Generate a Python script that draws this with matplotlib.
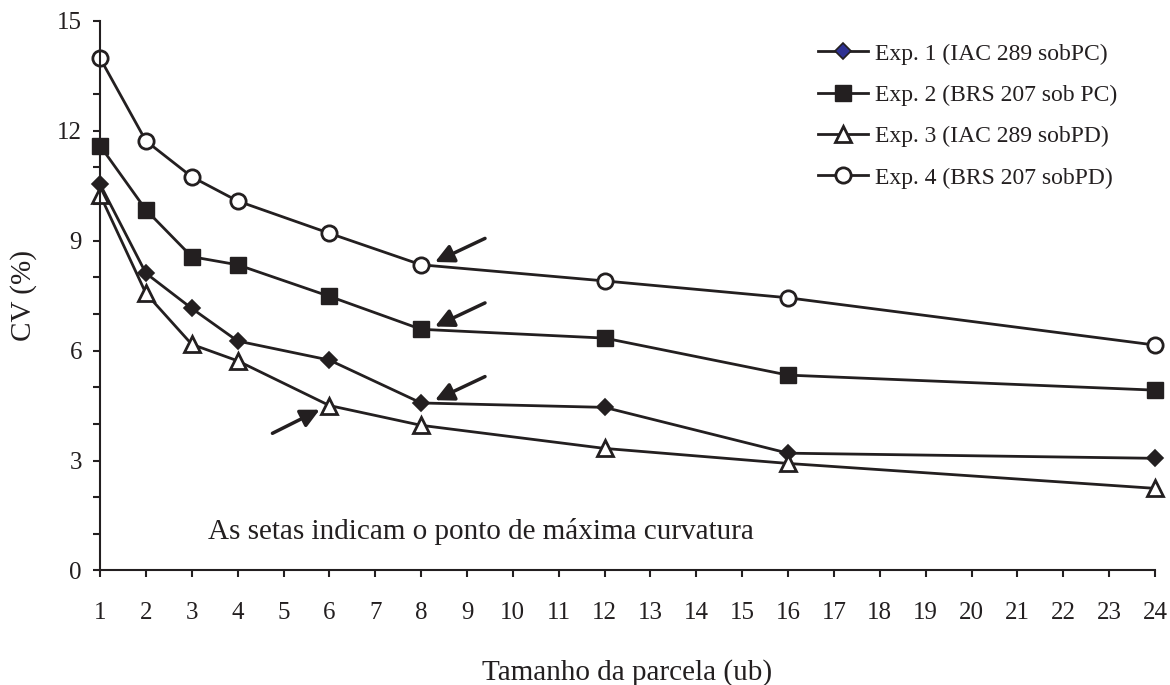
import matplotlib
matplotlib.use('Agg')
import matplotlib.pyplot as plt
import matplotlib.transforms as mtransforms

plt.rcParams['font.family'] = ['Liberation Serif', 'DejaVu Serif']

tamanho = [1, 2, 3, 4, 6, 8, 12, 16, 24]

exp1 = [10.54, 8.11, 7.15, 6.26, 5.74, 4.57, 4.45, 3.20, 3.06]
exp2 = [11.59, 9.84, 8.56, 8.34, 7.48, 6.58, 6.34, 5.33, 4.92]
exp3 = [10.25, 7.56, 6.17, 5.72, 4.50, 3.96, 3.33, 2.92, 2.24]
exp4 = [13.98, 11.72, 10.74, 10.08, 9.20, 8.34, 7.90, 7.44, 6.15]

labels = ['Exp. 1 (IAC 289 sobPC)', 'Exp. 2 (BRS 207 sob PC)',
          'Exp. 3 (IAC 289 sobPD)', 'Exp. 4 (BRS 207 sobPD)']

# ponto de maxima curvatura de cada experimento (tamanho da parcela)
pmc = [8, 8, 6, 8]

ink = '#231f20'

fig = plt.figure(figsize=(11.7, 6.85), dpi=100)
ax = fig.add_axes([0.0855, 0.1672, 0.9017, 0.8026])

ax.plot(tamanho, exp1, color=ink, lw=2, marker='D', ms=8, mfc=ink, mec=ink, mew=1.2, label=labels[0], clip_on=False)
ax.plot(tamanho, exp2, color=ink, lw=2, marker='s', ms=12, mfc=ink, mec=ink, label=labels[1], clip_on=False)
ax.plot(tamanho, exp3, color=ink, lw=2, marker='^', ms=11, mfc='white', mec=ink, mew=2, label=labels[2], clip_on=False)
ax.plot(tamanho, exp4, color=ink, lw=2, marker='o', ms=11, mfc='white', mec=ink, mew=2, label=labels[3], clip_on=False)

# setas
series = [exp1, exp2, exp3, exp4]
for i, s in enumerate(series):
    xp = pmc[i]
    yp = s[tamanho.index(xp)]
    if i == 2:
        tip = (-7, -3)
        tail = (-34, -17)
    else:
        tip = (10, 2)
        tail = (36, 17)
    trans = mtransforms.offset_copy(ax.transData, fig=fig, x=tip[0], y=tip[1], units='points')
    ax.annotate('', xy=(xp, yp), xycoords=trans, xytext=tail, textcoords='offset points',
                arrowprops=dict(arrowstyle='-|>', color=ink, lw=2.5, mutation_scale=28,
                                shrinkA=0, shrinkB=0))

ax.text(3.35, 0.85, 'As setas indicam o ponto de máxima curvatura', fontsize=21, color=ink)

ax.set_xlim(1, 24)
ax.set_ylim(0, 15)
ax.set_xticks(range(1, 25))
ax.set_yticks([0, 3, 6, 9, 12, 15])
ax.set_yticks(range(0, 16), minor=True)
ax.tick_params(axis='x', direction='out', length=5, width=1.5, colors=ink, labelsize=18, pad=18)
ax.tick_params(axis='y', which='both', direction='out', length=5, width=1.5, colors=ink, labelsize=18, pad=8)

for side in ['top', 'right']:
    ax.spines[side].set_visible(False)
for side in ['left', 'bottom']:
    ax.spines[side].set_linewidth(1.5)
    ax.spines[side].set_color(ink)

fig.text(0.536, 0.008, 'Tamanho da parcela (ub)', fontsize=21, color=ink, ha='center', va='baseline')
fig.text(0.02, 0.568, 'CV (%)', fontsize=21, color=ink, rotation=90, ha='center', va='center')

leg = ax.legend(loc='upper left', bbox_to_anchor=(818 / 1170, 1 - 43 / 685), bbox_transform=fig.transFigure,
                frameon=False, fontsize=17, handlelength=2.1, handletextpad=0.3, labelspacing=0.84,
                borderpad=0, borderaxespad=0, labelcolor=ink)
leg.legend_handles[0].set_markerfacecolor('#2e3192')

fig.savefig('out.png', dpi=100)
